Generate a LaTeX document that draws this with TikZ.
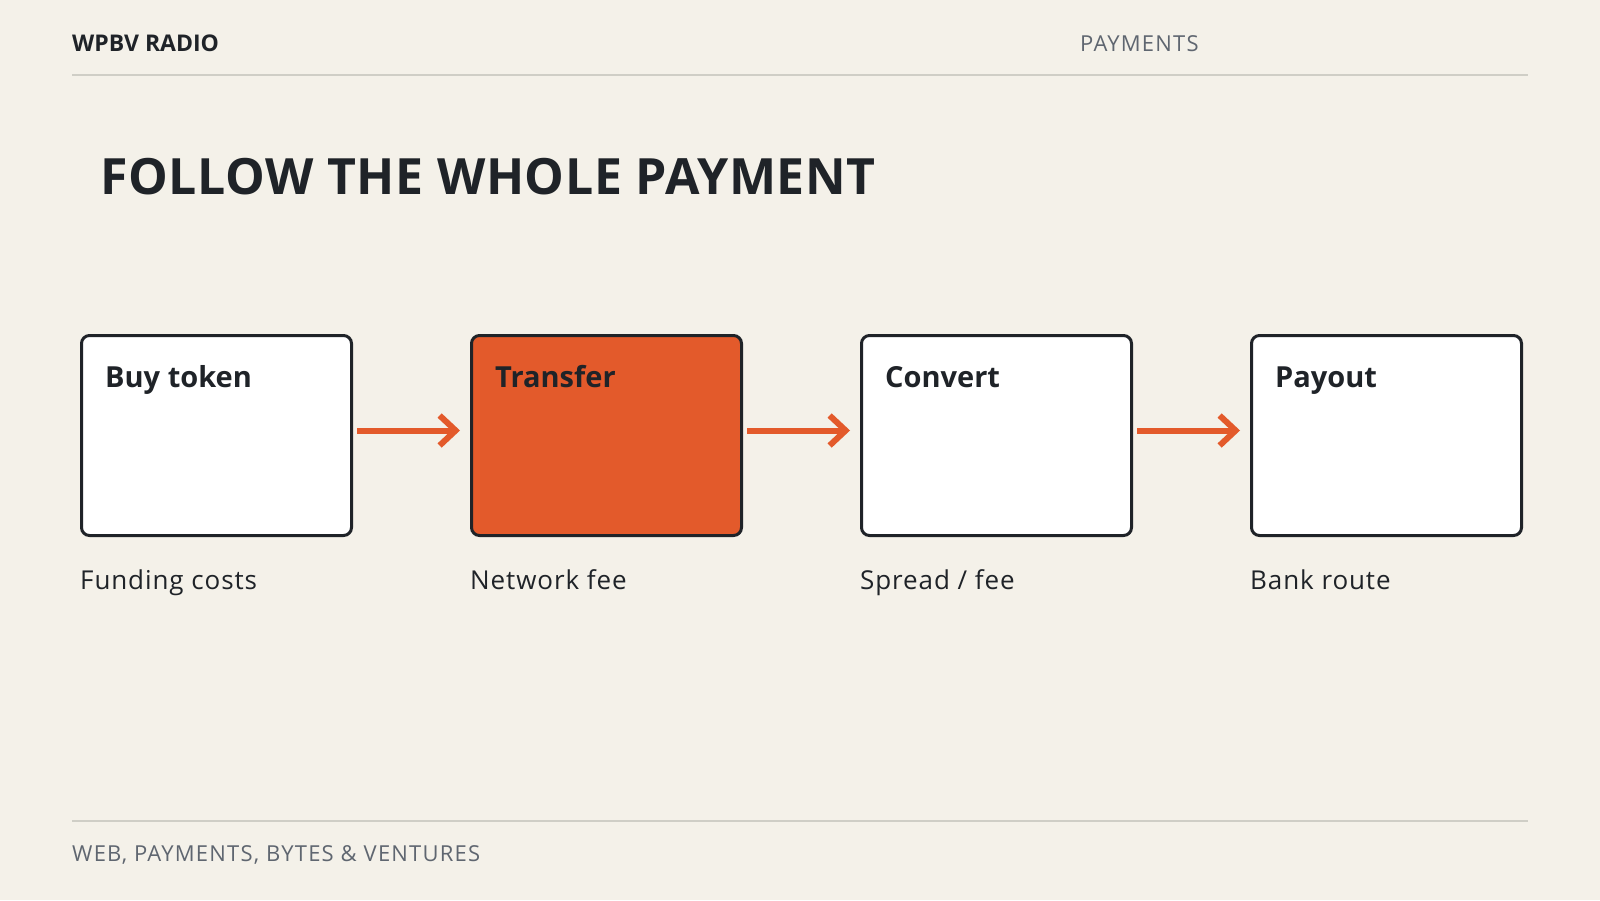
\documentclass[tikz,border=0pt]{standalone}
\usepackage{fontspec}
\setmainfont{Open Sans}
\newfontfamily\metafont[LetterSpace=5.5]{Open Sans}
\newfontfamily\subfont[LetterSpace=3.5]{Open Sans}
\newfontfamily\titlefont[LetterSpace=1.2]{Open Sans}
\usetikzlibrary{arrows.meta}
\definecolor{bg}{HTML}{F4F1E9}
\definecolor{ink}{HTML}{1F2328}
\definecolor{muted}{HTML}{5F6670}
\definecolor{rule}{HTML}{CFCEC6}
\definecolor{accent}{HTML}{E35A2B}
\begin{document}
\begin{tikzpicture}[x=1pt,y=-1pt,
  lbl/.style={anchor=base west, inner sep=0pt, text=ink},
  hdr/.style={lbl, font=\fontsize{23}{28}\selectfont\bfseries},
  meta/.style={lbl, text=muted, font=\metafont\fontsize{22}{26}\selectfont},
  ttl/.style={lbl, font=\titlefont\fontsize{50}{60}\selectfont\bfseries},
  stepbox/.style={draw=ink, line width=3pt, rounded corners=8pt, fill=white,
    minimum width=270pt, minimum height=200pt, anchor=north west, inner sep=0pt},
  hot/.style={stepbox, fill=accent},
  boxttl/.style={lbl, font=\fontsize{29}{34}\selectfont\bfseries},
  sub/.style={lbl, font=\subfont\fontsize{26}{30}\selectfont},
  arr/.style={draw=accent, line width=6pt,
    -{Straight Barb[length=16pt,width=30pt]}},
  hline/.style={draw=rule, line width=2.5pt}]
\fill[bg] (0,0) rectangle (1600,900);
\useasboundingbox (0,0) rectangle (1600,900);

% header
\node[hdr] (brand) at (72,51) {WPBV RADIO};
\node[meta] (section) at (1080,51) {PAYMENTS};
\coordinate (hl) at (72,75);
\coordinate (hr) at (1528,75);
\draw[hline] (hl) -- (hr);

% title
\node[ttl] (title) at (100,194) {FOLLOW THE WHOLE PAYMENT};

% boxes
\node[stepbox] (b1) at (80,334) {};
\node[hot] (b2) at (470,334) {};
\node[stepbox] (b3) at (860,334) {};
\node[stepbox] (b4) at (1250,334) {};

\node[boxttl] (t1) at (105,387) {Buy token};
\node[boxttl] (t2) at (495,387) {Transfer};
\node[boxttl] (t3) at (885,387) {Convert};
\node[boxttl] (t4) at (1275,387) {Payout};

\node[sub] (s1) at (80,589) {Funding costs};
\node[sub] (s2) at (470,589) {Network fee};
\node[sub] (s3) at (860,589) {Spread / fee};
\node[sub] (s4) at (1250,589) {Bank route};

% arrows
\draw[arr] ([shift={(4pt,5pt)}]b1.east) -- ([shift={(-10pt,5pt)}]b2.west);
\draw[arr] ([shift={(4pt,5pt)}]b2.east) -- ([shift={(-10pt,5pt)}]b3.west);
\draw[arr] ([shift={(4pt,5pt)}]b3.east) -- ([shift={(-10pt,5pt)}]b4.west);

% footer
\coordinate (fl) at (72,821);
\coordinate (fr) at (1528,821);
\draw[hline] (fl) -- (fr);
\node[meta] (foot) at (72,861) {WEB, PAYMENTS, BYTES \& VENTURES};
\end{tikzpicture}
\end{document}
